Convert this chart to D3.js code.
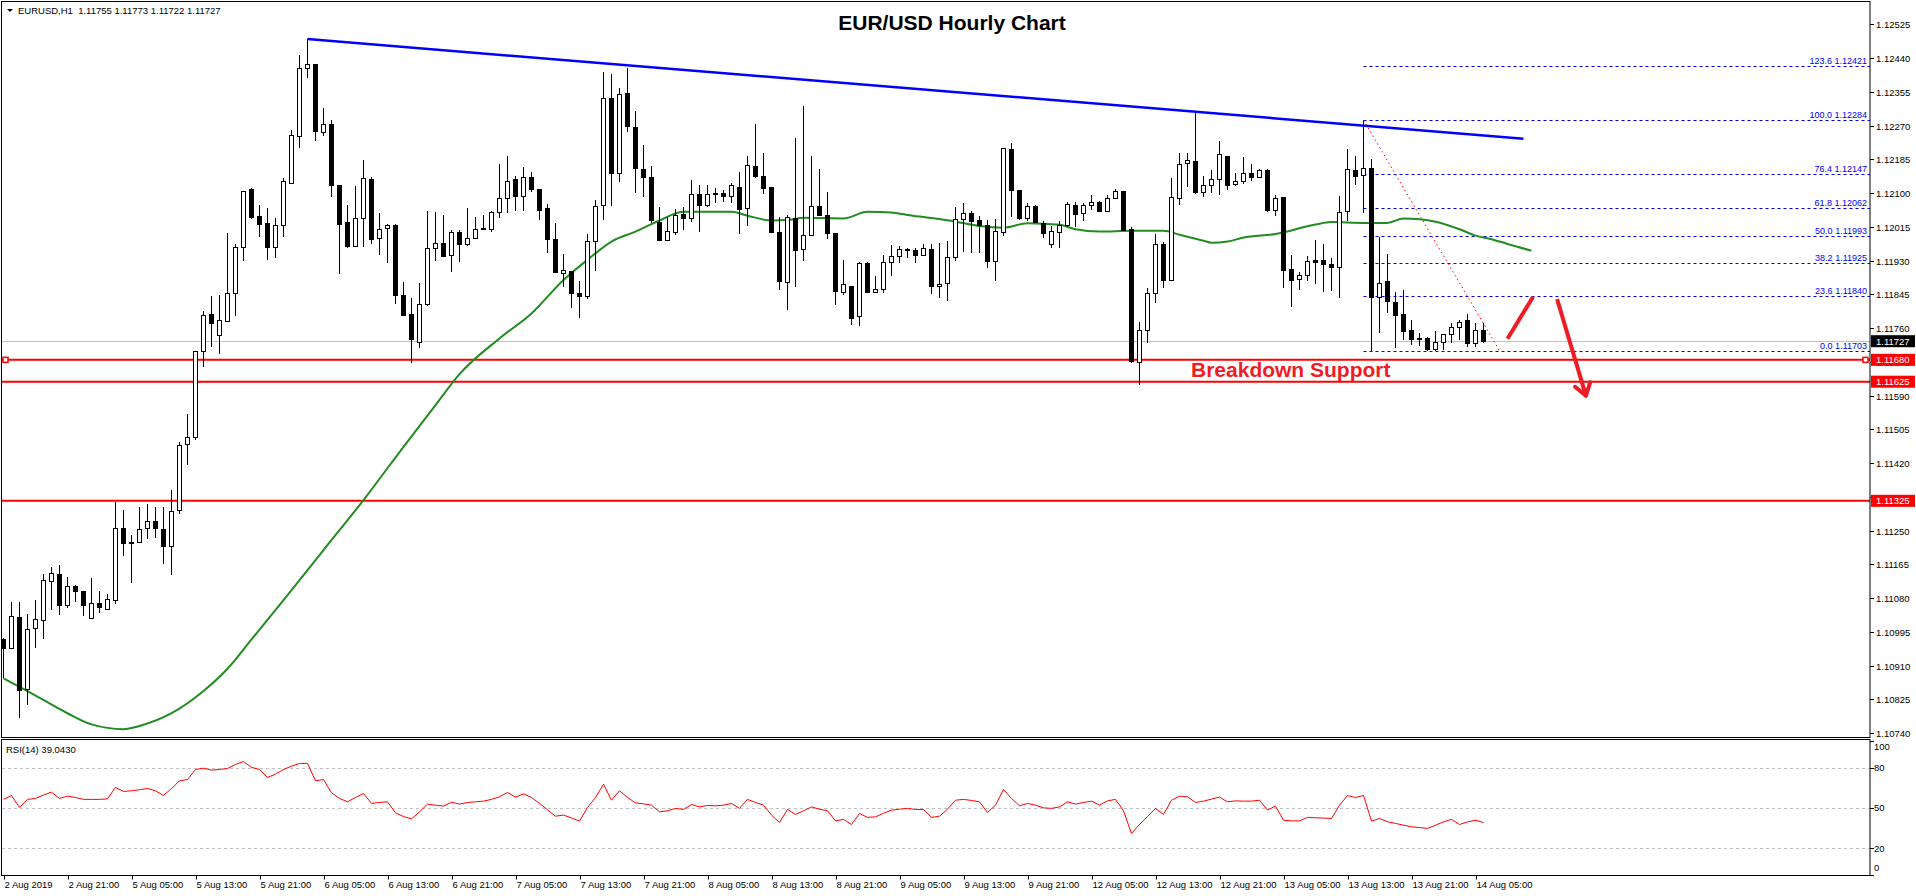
<!DOCTYPE html>
<html>
<head>
<meta charset="utf-8">
<script src="https://cdn.jsdelivr.net/npm/d3@7"></script>
<style>
  body { margin: 0; background: #fff; }
  svg { display: block; font-family: "Liberation Sans", Arial, sans-serif; }
</style>
</head>
<body>
<div id="chart"></div>
<script>
// EUR/USD H1 candles (2 Aug 13:00 -> 14 Aug 06:00)
var opens = [1.10976,1.10952,1.11032,1.10850,1.11003,1.11024,1.11122,1.11140,1.11061,1.11108,
  1.11097,1.11028,1.11067,1.11052,1.11075,1.11256,1.11221,1.11220,1.11256,1.11273,
  1.11253,1.11210,1.11301,1.11466,1.11485,1.11702,1.11795,1.11742,1.11776,1.11847,
  1.11963,1.12110,1.12042,1.12024,1.11962,1.12018,1.12125,1.12242,1.12414,1.12424,
  1.12252,1.12273,1.12118,1.12026,1.11965,1.12036,1.12135,1.11986,1.12011,1.12019,
  1.11843,1.11793,1.11724,1.11820,1.11961,1.11973,1.11944,1.12001,1.11971,1.11986,
  1.12012,1.12009,1.12050,1.12087,1.12134,1.12091,1.12140,1.12108,1.12061,1.11982,
  1.11898,1.11902,1.11847,1.11839,1.11977,1.12068,1.12338,1.12149,1.12351,1.12265,
  1.12160,1.12139,1.12025,1.11980,1.12002,1.12047,1.12035,1.12097,1.12068,1.12099,
  1.12099,1.12091,1.12114,1.12060,1.12168,1.12143,1.12115,1.12002,1.11874,1.12036,
  1.11958,1.11993,1.12065,1.12044,1.11998,1.11849,1.11866,1.11788,1.11923,1.11849,
  1.11856,1.11924,1.11940,1.11955,1.11956,1.11943,1.11958,1.11864,1.11872,1.11938,
  1.12034,1.12049,1.12032,1.12018,1.11927,1.12002,1.12210,1.12106,1.12036,1.12067,
  1.12024,1.11970,1.12002,1.12018,1.12070,1.12049,1.12068,1.12077,1.12053,1.12087,
  1.12105,1.12009,1.11673,1.11753,1.11847,1.11971,1.11879,1.12087,1.12175,1.12179,
  1.12101,1.12118,1.12134,1.12193,1.12122,1.12130,1.12150,1.12140,1.12158,1.12055,
  1.12088,1.11908,1.11883,1.11892,1.11929,1.11929,1.11919,1.11912,1.12053,1.12158,
  1.12144,1.12162,1.11837,1.11878,1.11825,1.11793,1.11753,1.11735,1.11733,1.11705,
  1.11724,1.11744,1.11762,1.11778,1.11722,1.11755];
var highs = [1.10980,1.11069,1.11069,1.11041,1.11074,1.11141,1.11158,1.11164,1.11132,1.11113,
  1.11097,1.11130,1.11099,1.11090,1.11323,1.11301,1.11240,1.11310,1.11317,1.11310,
  1.11310,1.11351,1.11472,1.11544,1.11700,1.11802,1.11840,1.11843,1.11999,1.11971,
  1.12105,1.12114,1.12070,1.12063,1.12038,1.12139,1.12259,1.12448,1.12488,1.12424,
  1.12315,1.12284,1.12120,1.12070,1.12118,1.12183,1.12141,1.12050,1.12021,1.12021,
  1.11877,1.11836,1.11873,1.12055,1.12053,1.12044,1.12007,1.12007,1.12063,1.12040,
  1.12044,1.12055,1.12173,1.12193,1.12143,1.12165,1.12153,1.12108,1.12072,1.12024,
  1.11946,1.11902,1.11878,1.11997,1.12082,1.12404,1.12400,1.12364,1.12414,1.12306,
  1.12221,1.12168,1.12065,1.12039,1.12061,1.12065,1.12133,1.12120,1.12120,1.12112,
  1.12109,1.12126,1.12153,1.12193,1.12274,1.12201,1.12115,1.12040,1.12044,1.12239,
  1.12319,1.12194,1.12160,1.12103,1.11998,1.11931,1.11866,1.11927,1.11927,1.11891,
  1.11944,1.11969,1.11967,1.11961,1.11961,1.11973,1.11971,1.11975,1.11979,1.12064,
  1.12074,1.12055,1.12043,1.12032,1.12034,1.12213,1.12227,1.12106,1.12075,1.12070,
  1.12030,1.12017,1.12029,1.12078,1.12077,1.12076,1.12095,1.12080,1.12095,1.12110,
  1.12105,1.12014,1.11776,1.11861,1.11997,1.11977,1.12137,1.12202,1.12202,1.12303,
  1.12143,1.12158,1.12231,1.12193,1.12151,1.12190,1.12173,1.12160,1.12160,1.12095,
  1.12091,1.11944,1.11902,1.11942,1.11982,1.11971,1.11936,1.12092,1.12211,1.12193,
  1.12284,1.12187,1.11990,1.11946,1.11851,1.11856,1.11780,1.11747,1.11738,1.11753,
  1.11744,1.11774,1.11780,1.11795,1.11772,1.11773];
var lows = [1.10880,1.10952,1.10779,1.10811,1.10954,1.10976,1.11050,1.11038,1.11056,1.11071,
  1.11034,1.11028,1.11042,1.11050,1.11064,1.11186,1.11119,1.11220,1.11230,1.11232,
  1.11167,1.11139,1.11292,1.11414,1.11479,1.11662,1.11713,1.11695,1.11776,1.11791,
  1.11930,1.12036,1.11990,1.11931,1.11937,1.11990,1.12123,1.12214,1.12390,1.12231,
  1.12244,1.12091,1.11896,1.11962,1.11965,1.11965,1.11973,1.11944,1.11924,1.11820,
  1.11791,1.11673,1.11710,1.11815,1.11929,1.11940,1.11902,1.11927,1.11967,1.11986,
  1.12006,1.12002,1.12038,1.12050,1.12055,1.12055,1.12103,1.12032,1.11950,1.11899,
  1.11864,1.11811,1.11786,1.11834,1.11904,1.12032,1.12067,1.12128,1.12254,1.12101,
  1.12091,1.12024,1.11980,1.11980,1.11994,1.12007,1.12028,1.12002,1.12065,1.12075,
  1.12078,1.12075,1.11998,1.12018,1.12137,1.12098,1.12000,1.11856,1.11805,1.11864,
  1.11929,1.11993,1.12043,1.11985,1.11818,1.11843,1.11769,1.11766,1.11849,1.11849,
  1.11849,1.11892,1.11924,1.11936,1.11924,1.11943,1.11845,1.11837,1.11829,1.11929,
  1.11952,1.11950,1.11948,1.11912,1.11879,1.11992,1.12039,1.12032,1.12030,1.12024,
  1.11987,1.11961,1.11961,1.12014,1.12014,1.12030,1.12057,1.12053,1.12053,1.12087,
  1.12007,1.11671,1.11616,1.11723,1.11824,1.11860,1.11879,1.12070,1.12116,1.12097,
  1.12091,1.12101,1.12095,1.12108,1.12118,1.12123,1.12131,1.12137,1.12053,1.12042,
  1.11861,1.11814,1.11856,1.11878,1.11871,1.11851,1.11853,1.11836,1.12030,1.12120,
  1.12049,1.11703,1.11748,1.11799,1.11710,1.11730,1.11717,1.11716,1.11703,1.11703,
  1.11706,1.11722,1.11730,1.11712,1.11713,1.11722];
var closes = [1.10954,1.11034,1.10848,1.11002,1.11025,1.11125,1.11143,1.11061,1.11108,1.11096,
  1.11061,1.11067,1.11056,1.11077,1.11256,1.11217,1.11217,1.11253,1.11273,1.11255,
  1.11210,1.11298,1.11464,1.11485,1.11700,1.11791,1.11771,1.11780,1.11847,1.11963,
  1.12105,1.12038,1.12022,1.11962,1.12019,1.12130,1.12244,1.12414,1.12424,1.12254,
  1.12273,1.12118,1.12022,1.11965,1.12036,1.12137,1.11984,1.12009,1.12019,1.11841,
  1.11791,1.11732,1.11820,1.11961,1.11973,1.11940,1.12001,1.11971,1.11986,1.12009,
  1.12009,1.12051,1.12087,1.12130,1.12091,1.12140,1.12108,1.12057,1.11982,1.11899,
  1.11906,1.11846,1.11839,1.11979,1.12067,1.12338,1.12149,1.12349,1.12267,1.12161,
  1.12139,1.12032,1.11980,1.12004,1.12044,1.12035,1.12097,1.12068,1.12097,1.12096,
  1.12091,1.12118,1.12059,1.12170,1.12141,1.12111,1.12000,1.11877,1.12039,1.11956,
  1.11992,1.12065,1.12043,1.11997,1.11851,1.11870,1.11783,1.11923,1.11849,1.11857,
  1.11925,1.11941,1.11958,1.11958,1.11943,1.11961,1.11864,1.11871,1.11938,1.12034,
  1.12049,1.12028,1.12018,1.11927,1.12004,1.12213,1.12106,1.12035,1.12065,1.12025,
  1.11997,1.12003,1.12019,1.12072,1.12047,1.12070,1.12077,1.12053,1.12087,1.12105,
  1.12007,1.11675,1.11755,1.11847,1.11971,1.11881,1.12089,1.12172,1.12181,1.12101,
  1.12118,1.12134,1.12197,1.12120,1.12130,1.12150,1.12140,1.12158,1.12055,1.12087,
  1.11906,1.11879,1.11892,1.11927,1.11924,1.11919,1.11913,1.12051,1.12160,1.12141,
  1.12162,1.11837,1.11872,1.11826,1.11791,1.11751,1.11731,1.11731,1.11705,1.11724,
  1.11744,1.11762,1.11775,1.11722,1.11753,1.11727];

// green moving average (shifted right), read at these bar indexes
var maIdx = [0,3,8,11,15,17,21,25,28,31,35,40,45,50,54,57,62,66,70,73,76,79,82,85,91,93,96,98,100,105,
  108,111,113,116,119,122,125,128,132,134,137,141,145,147,150,151,153,155,159,164,166,170,173,175,177,179,182,184,186,188,191];
var maVal = [1.10878,1.10846,1.10790,1.10762,1.10750,1.10758,1.10790,1.10846,1.10902,1.10976,
  1.11075,1.11201,1.11327,1.11461,1.11566,1.11644,1.11734,1.11797,1.11881,1.11932,1.11978,1.12003,1.12031,1.12053,1.12053,
  1.12043,1.12031,1.12032,1.12038,1.12036,1.12053,1.12051,1.12045,1.12037,1.12028,1.12017,1.12013,1.12024,1.12020,1.12009,
  1.12003,1.12005,1.12005,1.11995,1.11980,1.11975,1.11978,1.11988,1.11997,1.12021,1.12027,1.12025,1.12025,1.12036,1.12034,
  1.12028,1.12009,1.11993,1.11984,1.11972,1.11955];

// RSI(14), one value per bar
var rsi = [56.3,59.2,50.3,56.3,57.0,59.5,61.7,57.0,58.7,57.7,56.3,56.3,56.3,56.7,65.2,62.2,62.7,63.5,64.4,62.7,
  59.2,64.4,70.1,71.1,78.6,79.5,78.1,78.6,79.3,82.3,84.5,80.1,78.6,72.6,75.1,78.6,81.0,83.1,83.1,70.1,
  71.1,61.2,57.0,54.5,57.7,60.7,53.3,54.0,54.5,46.3,43.5,41.8,47.0,52.8,52.0,51.3,54.2,52.8,54.0,54.5,
  55.0,56.3,58.2,61.5,58.0,60.4,57.7,53.3,48.5,43.8,44.6,42.5,40.1,50.3,57.7,67.6,55.7,62.7,57.7,53.7,
  53.0,52.0,47.0,47.8,49.6,48.8,52.5,50.7,51.8,51.5,52.0,53.3,49.6,56.3,54.0,52.0,44.6,39.1,48.8,45.1,
  47.8,50.7,49.0,47.8,40.3,41.4,37.6,45.8,42.9,43.3,46.0,48.3,49.0,49.6,48.8,48.8,42.9,43.8,49.0,55.7,
  56.3,55.5,54.5,46.6,52.0,63.7,57.0,51.5,53.3,52.0,50.0,49.6,50.7,54.5,52.8,54.0,55.0,52.0,55.2,56.3,
  47.8,30.9,37.6,43.5,49.6,45.1,55.7,58.7,58.2,54.0,55.0,56.5,58.0,54.5,55.2,55.0,55.0,55.7,48.3,51.3,
  40.8,40.3,40.3,42.9,42.6,42.4,42.1,52.0,59.2,57.7,59.2,40.1,42.1,39.6,38.4,37.1,35.9,35.3,34.7,37.1,
  39.6,41.4,37.6,39.5,40.8,39.04];

var timeLabels = ["2 Aug 2019","2 Aug 21:00","5 Aug 05:00","5 Aug 13:00","5 Aug 21:00","6 Aug 05:00",
  "6 Aug 13:00","6 Aug 21:00","7 Aug 05:00","7 Aug 13:00","7 Aug 21:00","8 Aug 05:00","8 Aug 13:00",
  "8 Aug 21:00","9 Aug 05:00","9 Aug 13:00","9 Aug 21:00","12 Aug 05:00","12 Aug 13:00","12 Aug 21:00",
  "13 Aug 05:00","13 Aug 13:00","13 Aug 21:00","14 Aug 05:00"];
var priceTicks = [1.10740,1.10825,1.10910,1.10995,1.11080,1.11165,1.11250,1.11335,1.11420,1.11505,1.11590,
  1.11675,1.11760,1.11845,1.11930,1.12015,1.12100,1.12185,1.12270,1.12355,1.12440,1.12525];
var rsiTicks = [100, 80, 50, 20, 0];
var rsiLevels = [80, 50, 20];

// drawings
var fibNames = ["123.6","100.0","76.4","61.8","50.0","38.2","23.6","0.0"];
var fibPrices = [1.12421,1.12284,1.12147,1.12062,1.11993,1.11925,1.11840,1.11703];
var supportPrices = [1.11680, 1.11625, 1.11325];
var trendIdx = [38, 190], trendPrice = [1.12488, 1.12237];
var fibLineIdx = [170, 187], fibLinePrice = [1.12284, 1.11703];
var arrowUpIdx = [188, 191.2], arrowUpPrice = [1.11733, 1.11839];
var arrowDnIdx = [194.2, 197.8], arrowDnPrice = [1.11833, 1.11590];
var lastPrice = 1.11727;

var W = 1916, H = 896;
var right = 1870;
var mainTop = 1.5, mainBottom = 737.5, rsiTop = 739.5, rsiBottom = 875.5;

var svg = d3.select("#chart").append("svg").attr("width", W).attr("height", H);
svg.append("rect").attr("width", W).attr("height", H).attr("fill", "#fff");

var x = d3.scaleLinear().domain([0, 185]).range([3.5, 1483.5]);
var y = d3.scaleLinear().domain([1.10740, 1.12525]).range([733.1, 24.35]);
var yR = d3.scaleLinear().domain([0, 100]).range([875, 740.7]);

var bars = d3.range(opens.length).map(function(i) {
  return {i: i, o: opens[i], h: highs[i], l: lows[i], c: closes[i]};
});

svg.append("clipPath").attr("id", "clipMain").append("rect")
  .attr("x", 2).attr("y", 2).attr("width", right - 2).attr("height", mainBottom - 2);
svg.append("clipPath").attr("id", "clipRsi").append("rect")
  .attr("x", 2).attr("y", rsiTop).attr("width", right - 2).attr("height", rsiBottom - rsiTop);

var main = svg.append("g").attr("clip-path", "url(#clipMain)");

// current price line
main.append("line").attr("x1", 0).attr("x2", right)
  .attr("y1", Math.round(y(lastPrice)) + 0.5).attr("y2", Math.round(y(lastPrice)) + 0.5)
  .attr("stroke", "#c0c0c0").attr("stroke-width", 1);

// fibonacci levels
fibPrices.forEach(function(p, k) {
  var yy = Math.round(y(p)) + 0.5;
  main.append("line").attr("x1", x(170)).attr("x2", right).attr("y1", yy).attr("y2", yy)
    .attr("stroke", "#0000ff").attr("stroke-width", 1).attr("stroke-dasharray", "3,3");
  main.append("text").attr("x", right - 3).attr("y", yy - 3).attr("text-anchor", "end")
    .attr("font-size", 9).attr("fill", "#0000ff").text(fibNames[k] + " " + p.toFixed(5));
});

// support lines
supportPrices.forEach(function(p) {
  main.append("line").attr("x1", 0).attr("x2", right).attr("y1", y(p)).attr("y2", y(p))
    .attr("stroke", "#ff0000").attr("stroke-width", 2);
});
main.append("rect").attr("x", 3).attr("y", y(supportPrices[0]) - 2.5).attr("width", 5).attr("height", 5)
  .attr("fill", "#fff").attr("stroke", "#ff0000").attr("stroke-width", 1.5);
main.append("rect").attr("x", right - 7).attr("y", y(supportPrices[0]) - 2.5).attr("width", 5).attr("height", 5)
  .attr("fill", "#fff").attr("stroke", "#ff0000").attr("stroke-width", 1.5);

// moving average
var maLine = d3.line().x(function(d) { return x(d[0]); }).y(function(d) { return y(d[1]); })
  .curve(d3.curveMonotoneX);
main.append("path").datum(maIdx.map(function(v, k) { return [v, maVal[k]]; }))
  .attr("d", maLine).attr("fill", "none").attr("stroke", "#228b22").attr("stroke-width", 2);

// candles
var cg = main.append("g").attr("shape-rendering", "crispEdges");
cg.selectAll(".wick").data(bars).enter().append("line").attr("class", "wick")
  .attr("x1", function(d) { return x(d.i); }).attr("x2", function(d) { return x(d.i); })
  .attr("y1", function(d) { return y(d.h); }).attr("y2", function(d) { return y(d.l); })
  .attr("stroke", "#000").attr("stroke-width", 1);
cg.selectAll(".body").data(bars).enter().append("rect").attr("class", "body")
  .attr("x", function(d) { return x(d.i) - 2; })
  .attr("y", function(d) { return y(Math.max(d.o, d.c)); })
  .attr("width", 4)
  .attr("height", function(d) { return Math.max(Math.abs(y(d.o) - y(d.c)), 0.01); })
  .attr("fill", function(d) { return d.c < d.o ? "#000" : "#fff"; })
  .attr("stroke", "#000").attr("stroke-width", 1);

// trendline
main.append("line").attr("x1", x(trendIdx[0])).attr("y1", y(trendPrice[0]))
  .attr("x2", x(trendIdx[1])).attr("y2", y(trendPrice[1]))
  .attr("stroke", "#0000ff").attr("stroke-width", 2.5);

// fib base line (red dotted)
main.append("line").attr("x1", x(fibLineIdx[0])).attr("y1", y(fibLinePrice[0]))
  .attr("x2", x(fibLineIdx[1])).attr("y2", y(fibLinePrice[1]))
  .attr("stroke", "#ff0000").attr("stroke-width", 1).attr("stroke-dasharray", "1.5,3");

// red arrows
main.append("line").attr("x1", x(arrowUpIdx[0])).attr("y1", y(arrowUpPrice[0]))
  .attr("x2", x(arrowUpIdx[1])).attr("y2", y(arrowUpPrice[1]))
  .attr("stroke", "#ee1c25").attr("stroke-width", 4);
var ax1 = x(arrowDnIdx[0]), ay1 = y(arrowDnPrice[0]), ax2 = x(arrowDnIdx[1]), ay2 = y(arrowDnPrice[1]);
main.append("line").attr("x1", ax1).attr("y1", ay1).attr("x2", ax2).attr("y2", ay2)
  .attr("stroke", "#ee1c25").attr("stroke-width", 4);
var ang = Math.atan2(ay2 - ay1, ax2 - ax1);
[-1, 1].forEach(function(s) {
  var a = ang + Math.PI + s * 0.6;
  main.append("line").attr("x1", ax2).attr("y1", ay2)
    .attr("x2", ax2 + 14 * Math.cos(a)).attr("y2", ay2 + 14 * Math.sin(a))
    .attr("stroke", "#ee1c25").attr("stroke-width", 4).attr("stroke-linecap", "round");
});

// texts
svg.append("text").attr("x", 952).attr("y", 30).attr("text-anchor", "middle")
  .attr("font-size", 21).attr("font-weight", "bold").attr("fill", "#000").text("EUR/USD Hourly Chart");
svg.append("text").attr("x", 1191).attr("y", 377)
  .attr("font-size", 21).attr("font-weight", "bold").attr("fill", "#ee1c25").text("Breakdown Support");
svg.append("path").attr("d", "M7,9 L13,9 L10,12 Z").attr("fill", "#000");
svg.append("text").attr("x", 18).attr("y", 14).attr("font-size", 9.5).attr("fill", "#000")
  .style("white-space", "pre").text("EURUSD,H1  1.11755 1.11773 1.11722 1.11727");

// RSI
var rg = svg.append("g").attr("clip-path", "url(#clipRsi)");
rsiLevels.forEach(function(v) {
  rg.append("line").attr("x1", 2).attr("x2", right).attr("y1", Math.round(yR(v)) + 0.5).attr("y2", Math.round(yR(v)) + 0.5)
    .attr("stroke", "#c0c0c0").attr("stroke-dasharray", "3,3");
});
rg.append("path").datum(rsi)
  .attr("d", d3.line().x(function(d, i) { return x(i); }).y(function(d) { return yR(d); }))
  .attr("fill", "none").attr("stroke", "#ff0000").attr("stroke-width", 1);
svg.append("text").attr("x", 6).attr("y", 753).attr("font-size", 9.5).text("RSI(14) 39.0430");

// frames
svg.append("rect").attr("x", 1.5).attr("y", mainTop).attr("width", right - 1.5).attr("height", mainBottom - mainTop)
  .attr("fill", "none").attr("stroke", "#000");
svg.append("rect").attr("x", 1.5).attr("y", rsiTop).attr("width", right - 1.5).attr("height", rsiBottom - rsiTop)
  .attr("fill", "none").attr("stroke", "#000");

// price axis
priceTicks.forEach(function(p) {
  var yy = Math.round(y(p)) + 0.5;
  svg.append("line").attr("x1", right).attr("x2", right + 4).attr("y1", yy).attr("y2", yy).attr("stroke", "#000");
  svg.append("text").attr("x", right + 6).attr("y", yy + 3.5).attr("font-size", 9.5).text(p.toFixed(5));
});
var marks = [[lastPrice, "#000"], [supportPrices[0], "#ff0000"], [supportPrices[1], "#ff0000"], [supportPrices[2], "#ff0000"]];
marks.forEach(function(m) {
  var yy = y(m[0]);
  svg.append("rect").attr("x", right + 1).attr("y", yy - 6).attr("width", 44).attr("height", 12).attr("fill", m[1]);
  svg.append("text").attr("x", right + 6).attr("y", yy + 3.5).attr("font-size", 9.5).attr("fill", "#fff").text(m[0].toFixed(5));
});

// RSI axis
rsiTicks.forEach(function(v) {
  var yy = yR(v);
  var ty = v === 100 ? yy + 9 : (v === 0 ? yy - 4 : yy + 3.5);
  svg.append("line").attr("x1", right).attr("x2", right + 4).attr("y1", Math.round(yy) + 0.5).attr("y2", Math.round(yy) + 0.5).attr("stroke", "#000");
  svg.append("text").attr("x", right + 4).attr("y", ty).attr("font-size", 9.5).text(v);
});

// time axis
timeLabels.forEach(function(t, k) {
  var xx = Math.round(x(k * 8)) + 0.5;
  svg.append("line").attr("x1", xx).attr("x2", xx).attr("y1", rsiBottom).attr("y2", rsiBottom + 4).attr("stroke", "#000");
  svg.append("text").attr("x", xx).attr("y", 888).attr("font-size", 9.5).text(t);
});
</script>
</body>
</html>
